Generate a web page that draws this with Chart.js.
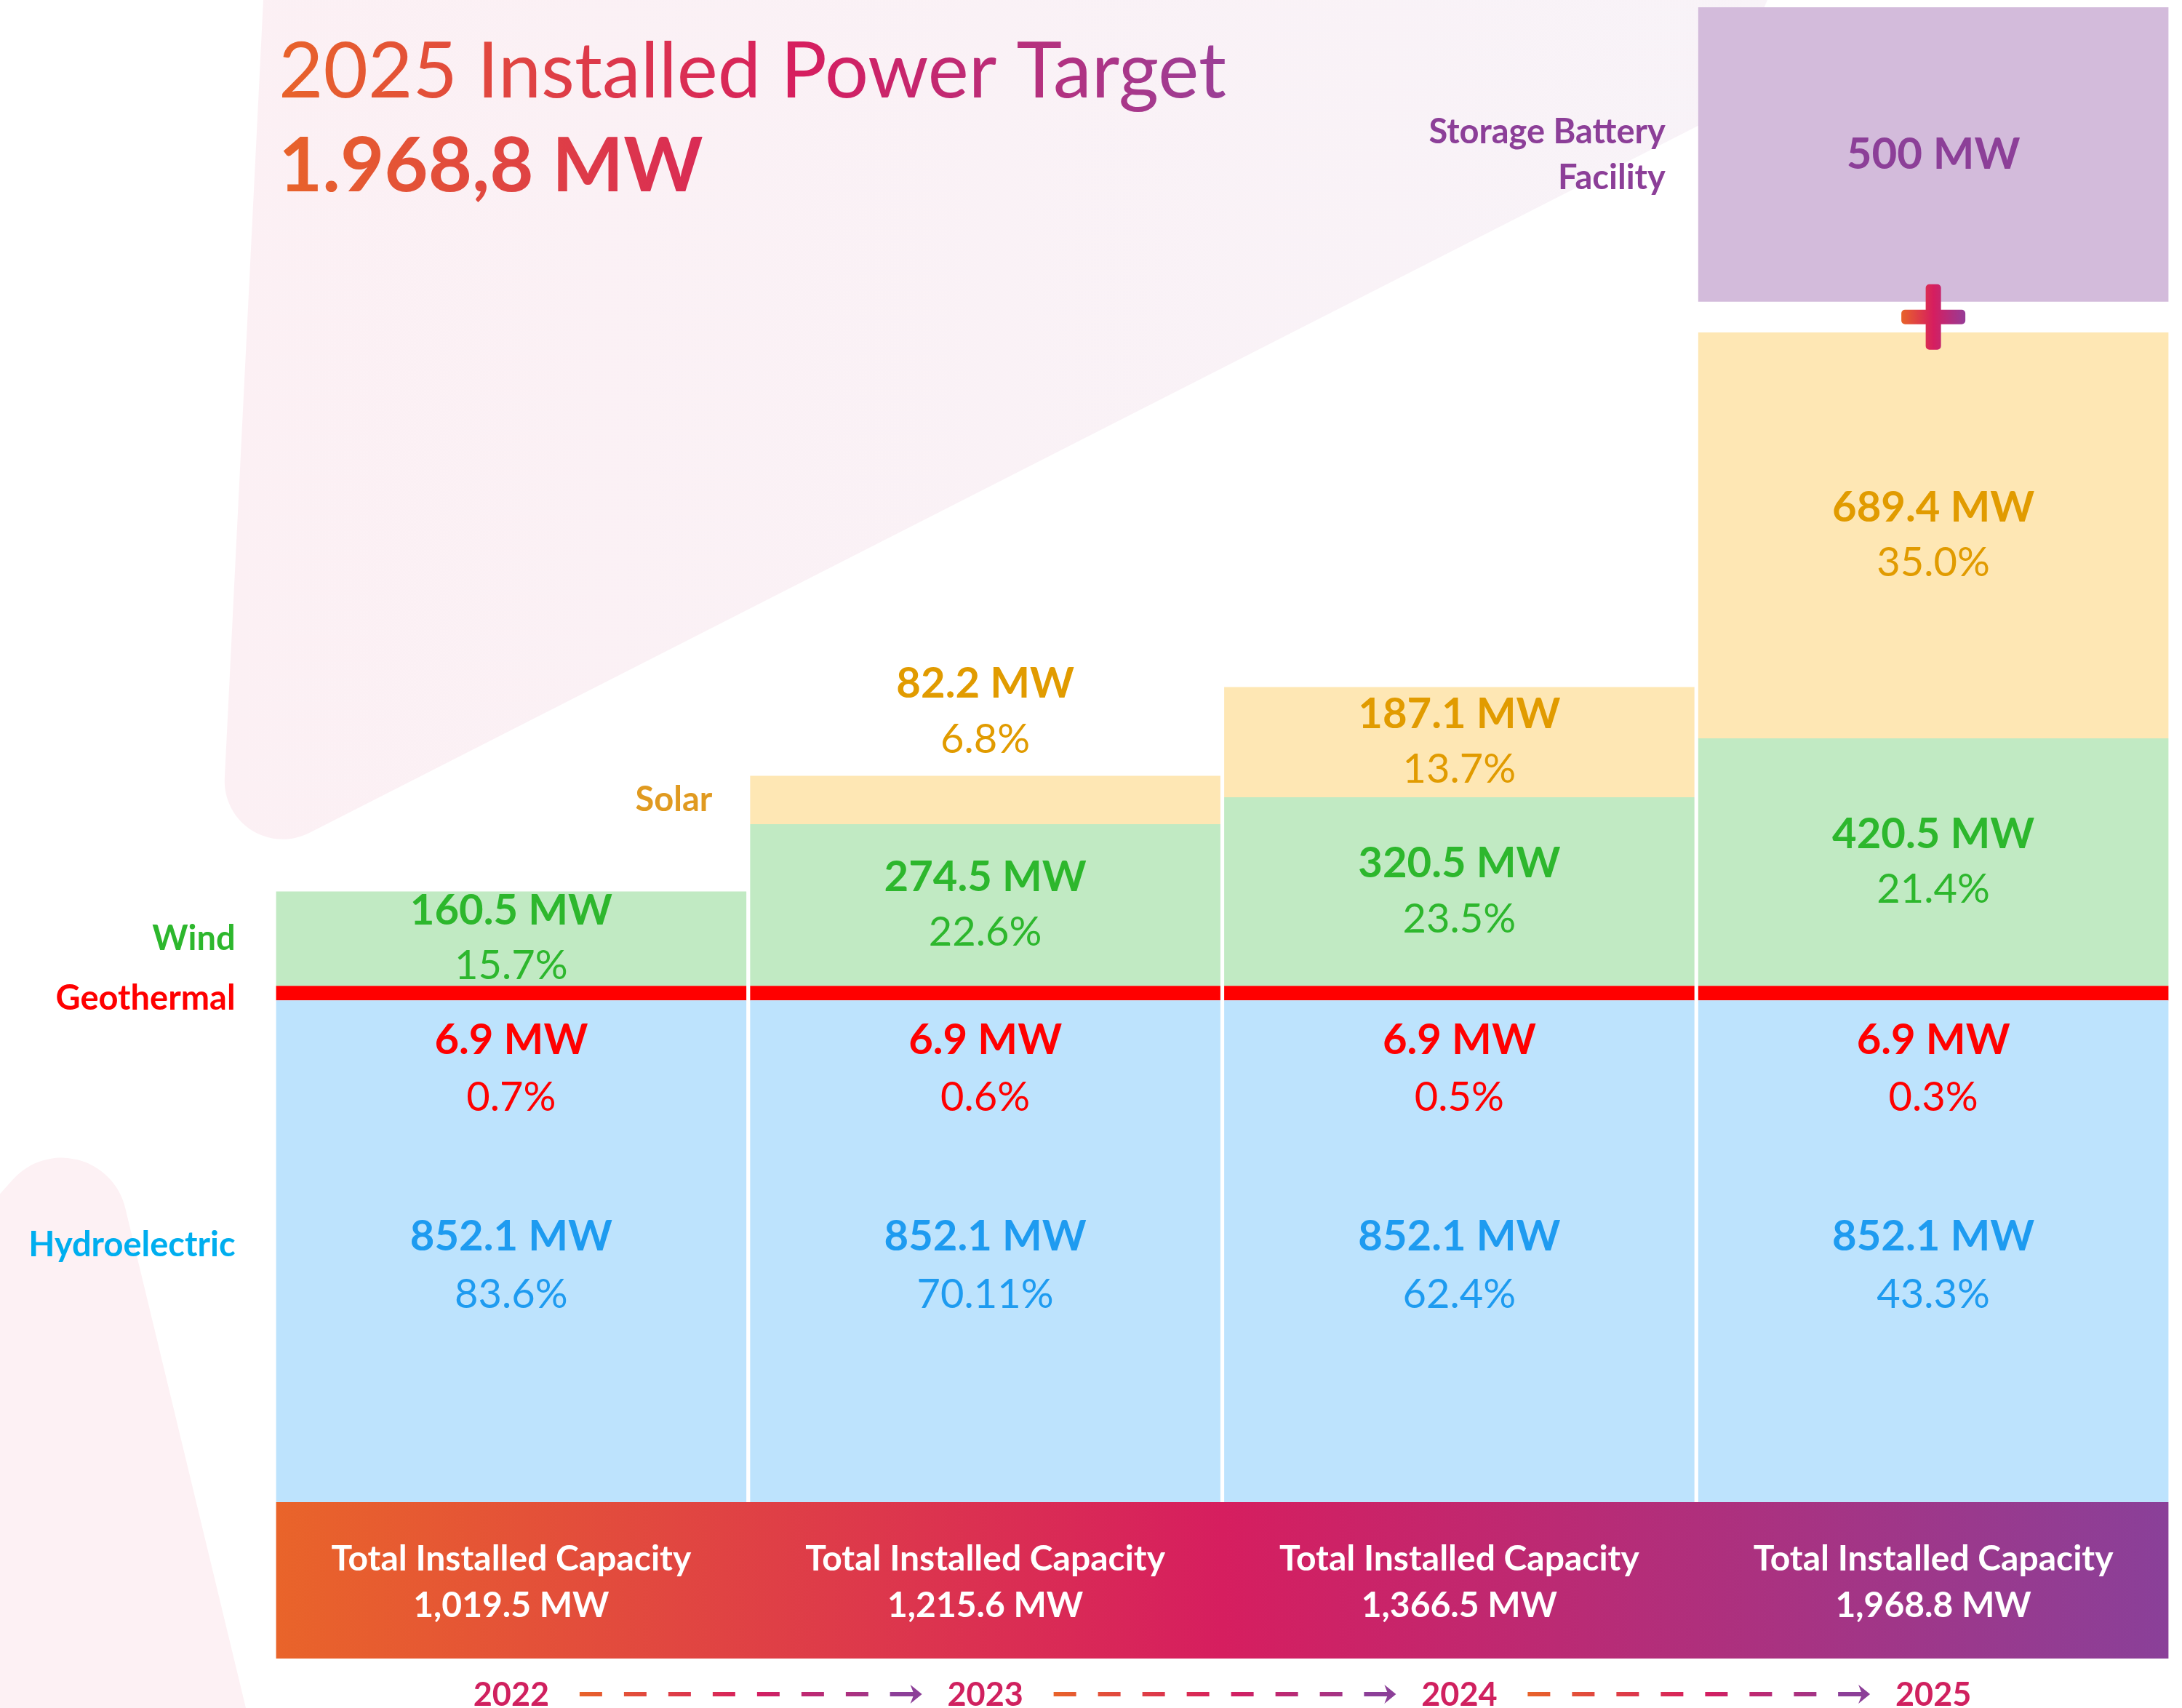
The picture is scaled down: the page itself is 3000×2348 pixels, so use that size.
<!DOCTYPE html>
<html>
<head>
<meta charset="utf-8">
<title>2025 Installed Power Target</title>
<script src="https://cdn.jsdelivr.net/npm/chart.js@4.4.1/dist/chart.umd.min.js"></script>
<style>
  html, body { margin: 0; padding: 0; background: #fff; }
  canvas { display: block; }
</style>
</head>
<body>
<canvas id="power" width="3000" height="2348"></canvas>
<script>
var years = ["2022", "2023", "2024", "2025"];
var hydro = [852.1, 852.1, 852.1, 852.1];
var geothermal = [6.9, 6.9, 6.9, 6.9];
var wind = [160.5, 274.5, 320.5, 420.5];
var solar = [null, 82.2, 187.1, 689.4];
var battery = [null, null, null, 500];

var hydroPct = ["83.6%", "70.11%", "62.4%", "43.3%"];
var geoPct = ["0.7%", "0.6%", "0.5%", "0.3%"];
var windPct = ["15.7%", "22.6%", "23.5%", "21.4%"];
var solarPct = [null, "6.8%", "13.7%", "35.0%"];
var totals = ["1,019.5 MW", "1,215.6 MW", "1,366.5 MW", "1,968.8 MW"];

var titleText = "2025 Installed Power Target";
var targetText = "1.968,8 MW";

// battery sits on top of the 2025 column, with a small gap for the "+"
var batteryGap = 70;
var stackTops = years.map(function (y, i) {
    return hydro[i] + geothermal[i] + wind[i] + (solar[i] || 0);
});
var batteryBars = battery.map(function (v, i) {
    return v == null ? null : [stackTops[i] + batteryGap, stackTops[i] + batteryGap + v];
});
var yMax = Math.max.apply(null, batteryBars.map(function (b) { return b ? b[1] : 0; }));

var FONT = "Lato, 'Open Sans', sans-serif";
var orange = "#E8632A", crimson = "#D61E5F", purple = "#8C3F98";

function mw(v) {
    return (Number.isInteger(v) ? v : v.toFixed(1)) + " MW";
}

function text(ctx, str, x, y, font, color, align) {
    ctx.font = font;
    ctx.fillStyle = color;
    ctx.textAlign = align || "center";
    ctx.textBaseline = "middle";
    ctx.fillText(str, x, y);
}

var backdrop = {
    id: "backdrop",
    beforeDraw: function (chart) {
        var ctx = chart.ctx;
        ctx.save();
        ctx.fillStyle = "#fff";
        ctx.fillRect(0, 0, chart.width, chart.height);

        // large pale wedge behind the title
        var g = ctx.createLinearGradient(300, 0, 2450, 0);
        g.addColorStop(0, "#FCF0F4");
        g.addColorStop(1, "#F8F3F8");
        ctx.fillStyle = g;
        ctx.beginPath();
        ctx.moveTo(362, 0);
        ctx.arcTo(302, 1208, 470, 1122, 80);
        ctx.lineTo(2360, 160);
        ctx.lineTo(2430, 0);
        ctx.closePath();
        ctx.fill();

        // small wedge bottom left
        ctx.fillStyle = "#FDF1F4";
        ctx.beginPath();
        ctx.moveTo(-120, 1775);
        ctx.arcTo(132, 1494, 338, 2348, 90);
        ctx.lineTo(338, 2348);
        ctx.lineTo(-120, 2348);
        ctx.closePath();
        ctx.fill();

        // title
        var tg = ctx.createLinearGradient(385, 0, 1690, 0);
        tg.addColorStop(0, orange);
        tg.addColorStop(0.55, crimson);
        tg.addColorStop(1, "#9A3F97");
        ctx.fillStyle = tg;
        ctx.textAlign = "left";
        ctx.textBaseline = "alphabetic";
        ctx.font = "106px " + FONT;
        ctx.fillText(titleText, 383, 134);
        ctx.font = "bold 104px " + FONT;
        ctx.fillText(targetText, 383, 263);
        ctx.restore();
    }
};

var annotate = {
    id: "annotate",
    afterDatasetsDraw: function (chart) {
        var ctx = chart.ctx;
        var area = chart.chartArea;
        var el = function (ds, i) { return chart.getDatasetMeta(ds).data[i]; };
        var bold = function (s) { return "bold " + s + "px " + FONT; };
        var reg = function (s) { return s + "px " + FONT; };
        var gapLines = 76;
        ctx.save();

        years.forEach(function (yr, i) {
            var h = el(0, i), g = el(1, i), w = el(2, i), s = el(3, i);
            var x = h.x;

            // hydro
            var hc = (h.y + h.base) / 2 + 20;
            text(ctx, mw(hydro[i]), x, hc - 40, bold(58), "#1E9BF0");
            text(ctx, hydroPct[i], x, hc + 40, reg(56), "#1E9BF0");

            // geothermal, written just under the red band
            text(ctx, mw(geothermal[i]), x, h.y + 55, bold(58), "#FF0000");
            text(ctx, geoPct[i], x, h.y + 134, reg(56), "#FF0000");

            // wind, centred in its visible part
            var wc = (w.y + g.y) / 2;
            text(ctx, mw(wind[i]), x, wc - gapLines / 2, bold(58), "#2DB72D");
            text(ctx, windPct[i], x, wc + gapLines / 2, reg(56), "#2DB72D");

            // solar, above the bar when it is too short
            if (solar[i] != null) {
                var sh = s.base - s.y;
                var sc = sh >= 120 ? (s.y + s.base) / 2 : s.y - 88;
                text(ctx, mw(solar[i]), x, sc - gapLines / 2, bold(58), "#E19B00");
                text(ctx, solarPct[i], x, sc + gapLines / 2, reg(56), "#E19B00");
            }

            // battery
            if (battery[i] != null) {
                var b = el(4, i);
                text(ctx, mw(battery[i]), x, (b.y + b.base) / 2, bold(60), purple);
                // plus sign between the solar bar and the battery
                var py = (s.y + b.base) / 2;
                var pg = ctx.createLinearGradient(x - 44, 0, x + 44, 0);
                pg.addColorStop(0, orange);
                pg.addColorStop(0.5, crimson);
                pg.addColorStop(1, "#963C97");
                ctx.fillStyle = pg;
                ctx.beginPath();
                ctx.roundRect(x - 10.5, py - 45, 21, 90, 5);
                ctx.roundRect(x - 44, py - 10, 88, 20, 5);
                ctx.fill();
            }
        });

        // category names at the side of the bars
        var h0 = el(0, 0), g0 = el(1, 0), w0 = el(2, 0);
        var left0 = h0.x - h0.width / 2 - 56;
        text(ctx, "Wind", left0, (w0.y + g0.y) / 2, bold(47), "#2DB72D", "right");
        text(ctx, "Geothermal", left0, (g0.y + g0.base) / 2 + 8, bold(47), "#FF0000", "right");
        text(ctx, "Hydroelectric", left0, (h0.y + h0.base) / 2 - 8, bold(47), "#00AEEF", "right");
        var s1 = el(3, 1);
        text(ctx, "Solar", s1.x - s1.width / 2 - 52, (s1.y + s1.base) / 2, bold(47), "#E09A20", "right");
        var b3 = el(4, 3);
        var bl = b3.x - b3.width / 2 - 45, bc = (b3.y + b3.base) / 2;
        text(ctx, "Storage Battery", bl, bc - 31, bold(47), purple, "right");
        text(ctx, "Facility", bl, bc + 32, bold(47), purple, "right");

        // gradient band with totals
        var first = el(0, 0), last = el(0, years.length - 1);
        var bandL = first.x - first.width / 2, bandR = last.x + last.width / 2;
        var top = area.bottom;
        var bg = ctx.createLinearGradient(bandL, 0, bandR, 0);
        bg.addColorStop(0, "#E9642A");
        bg.addColorStop(0.5, crimson);
        bg.addColorStop(1, "#8A4099");
        ctx.fillStyle = bg;
        ctx.fillRect(bandL, top, bandR - bandL, 215);

        years.forEach(function (yr, i) {
            var x = el(0, i).x;
            text(ctx, "Total Installed Capacity", x, top + 79, bold(48), "#fff");
            text(ctx, totals[i], x, top + 143, bold(48), "#fff");
            text(ctx, yr, x, top + 265, bold(45), "#D0215F");
        });

        // dashed arrows between the years
        var ay = top + 264;
        for (var i = 0; i < years.length - 1; i++) {
            var x0 = el(0, i).x + 94, x1 = el(0, i + 1).x - 87;
            var ag = ctx.createLinearGradient(x0, 0, x1, 0);
            ag.addColorStop(0, orange);
            ag.addColorStop(0.5, crimson);
            ag.addColorStop(1, purple);
            ctx.strokeStyle = ag;
            ctx.lineWidth = 6;
            ctx.setLineDash([31, 30]);
            ctx.beginPath();
            ctx.moveTo(x0, ay);
            ctx.lineTo(x1 - 50, ay);
            ctx.stroke();
            ctx.setLineDash([]);
            ctx.strokeStyle = purple;
            ctx.beginPath();
            ctx.moveTo(x1 - 44, ay);
            ctx.lineTo(x1 - 10, ay);
            ctx.stroke();
            ctx.fillStyle = purple;
            ctx.beginPath();
            ctx.moveTo(x1, ay);
            ctx.lineTo(x1 - 16, ay - 13);
            ctx.lineTo(x1 - 11, ay);
            ctx.lineTo(x1 - 16, ay + 13);
            ctx.closePath();
            ctx.fill();
        }
        ctx.restore();
    }
};

var power = document.getElementById("power").getContext("2d");
new Chart(power, {
    type: "bar",
    data: {
        labels: years,
        datasets: [
            { label: "Hydroelectric", data: hydro, backgroundColor: "#BDE3FD" },
            { label: "Geothermal", data: geothermal, backgroundColor: "#FF0000", minBarLength: 20 },
            { label: "Wind", data: wind, backgroundColor: "#C1EAC3" },
            { label: "Solar", data: solar, backgroundColor: "#FEE7B4" },
            { label: "Storage Battery Facility", data: batteryBars, backgroundColor: "#D3BBDB", yAxisID: "y2" }
        ]
    },
    options: {
        responsive: false,
        animation: false,
        layout: { padding: { left: 377, right: 16, top: 10, bottom: 283 } },
        datasets: { bar: { barPercentage: 0.992, categoryPercentage: 1, borderWidth: 0 } },
        scales: {
            x: { display: false, stacked: true },
            y: { display: false, stacked: true, min: 0, max: yMax },
            y2: { display: false, stacked: false, min: 0, max: yMax }
        },
        plugins: {
            legend: { display: false },
            tooltip: { enabled: false }
        }
    },
    plugins: [backdrop, annotate]
});
</script>
</body>
</html>
